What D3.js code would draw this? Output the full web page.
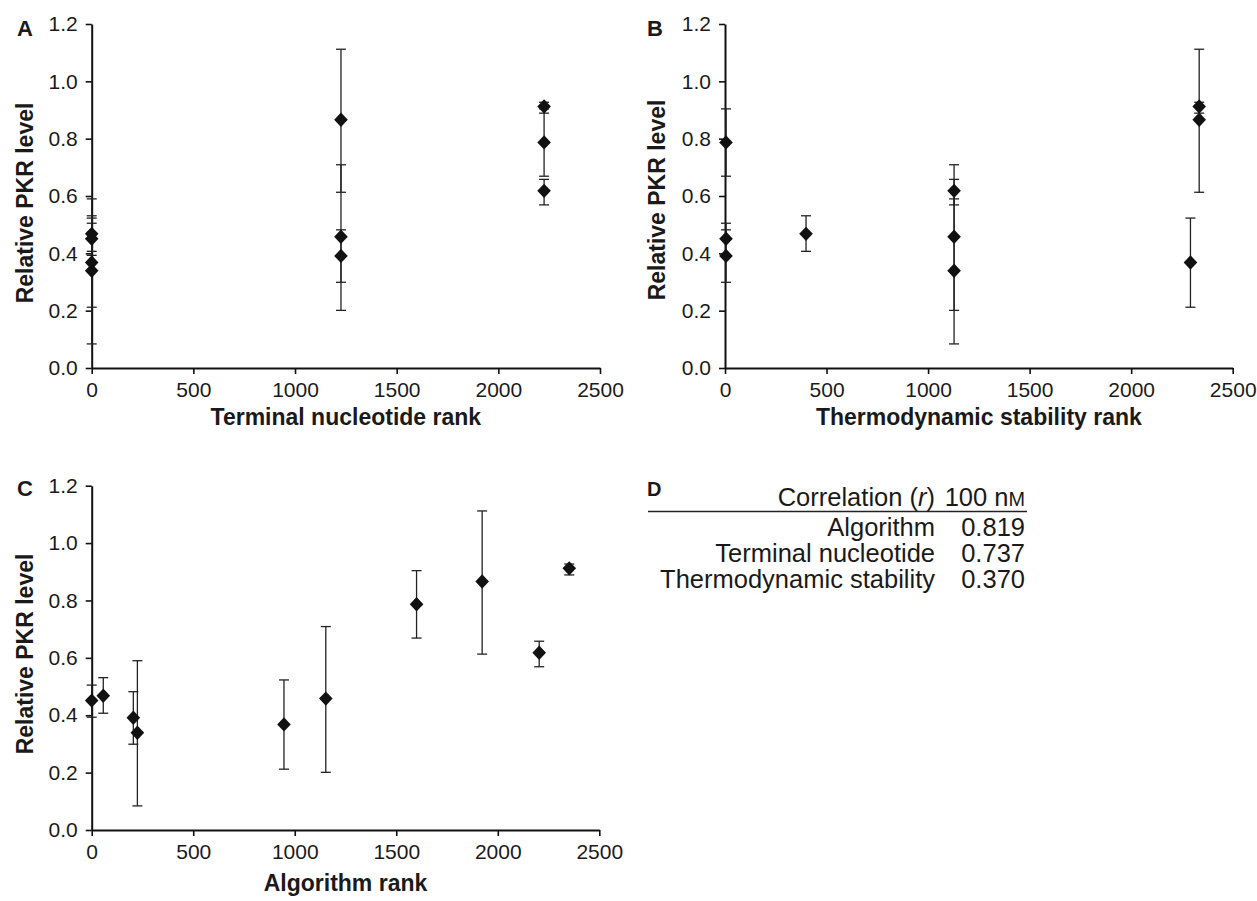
<!DOCTYPE html>
<html>
<head>
<meta charset="utf-8">
<script src="https://cdn.jsdelivr.net/npm/d3@7"></script>
<style>
  html, body { margin: 0; padding: 0; background: #fff; }
  svg { display: block; }
  text { font-family: "Liberation Sans", Arial, sans-serif; fill: #1a1a1a; }
</style>
</head>
<body>
<svg id="chart" width="1257" height="901"></svg>
<script>
// ---- data (one entry per siRNA) ----
const pkrLevel      = [0.451, 0.468, 0.391, 0.339, 0.368, 0.458, 0.787, 0.866, 0.618, 0.912];
const errLow        = [0.393, 0.407, 0.299, 0.084, 0.212, 0.201, 0.669, 0.613, 0.569, 0.889];
const errHigh       = [0.505, 0.531, 0.482, 0.590, 0.523, 0.709, 0.904, 1.112, 0.658, 0.927];
const terminalRank  = [0, 0, 1226, 0, 0, 1226, 2225, 1226, 2225, 2225];
const thermoRank    = [5, 399, 5, 1128, 2292, 1128, 5, 2335, 1128, 2335];
const algorithmRank = [0, 57, 205, 225, 947, 1153, 1600, 1923, 2204, 2352];

const xTicks = [0, 500, 1000, 1500, 2000, 2500];
const yTicks = [0, 0.2, 0.4, 0.6, 0.8, 1.0, 1.2];

const yTitle = "Relative PKR level";

const tableHeader = ["Correlation (", "r", ")"];
const tableUnit = ["100 n", "M"];
const tableMethods = ["Algorithm", "Terminal nucleotide", "Thermodynamic stability"];
const tableR = ["0.819", "0.737", "0.370"];

// ---- drawing ----
const svg = d3.select("#chart");

const panels = [
  { letter: "A", ranks: terminalRank,  xTitle: "Terminal nucleotide rank",
    x0: 91.7, x1: 600, y0: 368, y1: 24, letterX: 17, letterY: 36,
    yTitleX: 33, yTitleY: 203, xTitleY: 425 },
  { letter: "B", ranks: thermoRank,    xTitle: "Thermodynamic stability rank",
    x0: 725, x1: 1232.7, y0: 368, y1: 24, letterX: 647, letterY: 36,
    yTitleX: 665, yTitleY: 200, xTitleY: 425 },
  { letter: "C", ranks: algorithmRank, xTitle: "Algorithm rank",
    x0: 91.7, x1: 599.3, y0: 830, y1: 485.7, letterX: 17, letterY: 496,
    yTitleX: 33, yTitleY: 654, xTitleY: 891 }
];

panels.forEach(p => {
  const x = d3.scaleLinear().domain([0, 2500]).range([p.x0, p.x1]);
  const y = d3.scaleLinear().domain([0, 1.2]).range([p.y0, p.y1]);
  const g = svg.append("g");

  // axes
  const yAxis = d3.axisLeft(y).tickValues(yTicks).tickFormat(d3.format(".1f"))
    .tickSizeInner(6).tickSizeOuter(0).tickPadding(8);
  const xAxis = d3.axisBottom(x).tickValues(xTicks).tickFormat(d3.format("d"))
    .tickSizeInner(6).tickSizeOuter(0).tickPadding(8);

  const gy = g.append("g").attr("transform", `translate(${p.x0},0)`).call(yAxis);
  const gx = g.append("g").attr("transform", `translate(0,${p.y0})`).call(xAxis);
  [gx, gy].forEach(ax => {
    ax.select(".domain").attr("stroke", "#111").attr("stroke-width", 2);
    ax.selectAll(".tick line").attr("stroke", "#111").attr("stroke-width", 1.6);
    ax.selectAll(".tick text").attr("font-size", 21)
      .attr("font-family", "Liberation Sans, Arial, sans-serif").attr("fill", "#1a1a1a");
  });

  // error bars
  const eb = g.append("g").attr("stroke", "#222").attr("stroke-width", 1.3);
  pkrLevel.forEach((v, i) => {
    const cx = x(p.ranks[i]);
    eb.append("line").attr("x1", cx).attr("x2", cx).attr("y1", y(errLow[i])).attr("y2", y(errHigh[i]));
    eb.append("line").attr("x1", cx - 5).attr("x2", cx + 5).attr("y1", y(errLow[i])).attr("y2", y(errLow[i]));
    eb.append("line").attr("x1", cx - 5).attr("x2", cx + 5).attr("y1", y(errHigh[i])).attr("y2", y(errHigh[i]));
  });

  // diamonds
  g.append("g").selectAll("path").data(pkrLevel).join("path")
    .attr("d", (v, i) => {
      const cx = x(p.ranks[i]), cy = y(v), hw = 6.8, hh = 7.2;
      return `M${cx},${cy - hh}L${cx + hw},${cy}L${cx},${cy + hh}L${cx - hw},${cy}Z`;
    })
    .attr("fill", "#111");

  // titles
  g.append("text").attr("x", (p.x0 + p.x1) / 2).attr("y", p.xTitleY)
    .attr("text-anchor", "middle").attr("font-size", 23).attr("font-weight", "bold")
    .text(p.xTitle);
  g.append("text").attr("transform", `translate(${p.yTitleX},${p.yTitleY}) rotate(-90)`)
    .attr("text-anchor", "middle").attr("font-size", 23).attr("font-weight", "bold")
    .text(yTitle);
  g.append("text").attr("x", p.letterX).attr("y", p.letterY)
    .attr("font-size", 22).attr("font-weight", "bold").text(p.letter);
});

// ---- panel D table ----
const t = svg.append("g");
const labelRight = 935, numRight = 1025, fs = 25.5;
t.append("text").attr("x", 647).attr("y", 496).attr("font-size", 20).attr("font-weight", "bold").text("D");
const hdr = t.append("text").attr("x", labelRight).attr("y", 506).attr("text-anchor", "end").attr("font-size", fs);
hdr.append("tspan").text(tableHeader[0]);
hdr.append("tspan").attr("font-style", "italic").text(tableHeader[1]);
hdr.append("tspan").text(tableHeader[2]);
const unit = t.append("text").attr("x", numRight).attr("y", 506).attr("text-anchor", "end").attr("font-size", fs);
unit.append("tspan").text(tableUnit[0]);
unit.append("tspan").attr("font-size", fs * 0.78).text(tableUnit[1]);
t.append("line").attr("x1", 648).attr("x2", 1027).attr("y1", 511.5).attr("y2", 511.5)
  .attr("stroke", "#222").attr("stroke-width", 1.6);
tableMethods.forEach((m, i) => {
  const by = 536 + i * 26;
  t.append("text").attr("x", labelRight).attr("y", by).attr("text-anchor", "end").attr("font-size", fs).text(m);
  t.append("text").attr("x", numRight).attr("y", by).attr("text-anchor", "end").attr("font-size", fs).text(tableR[i]);
});
</script>
</body>
</html>
